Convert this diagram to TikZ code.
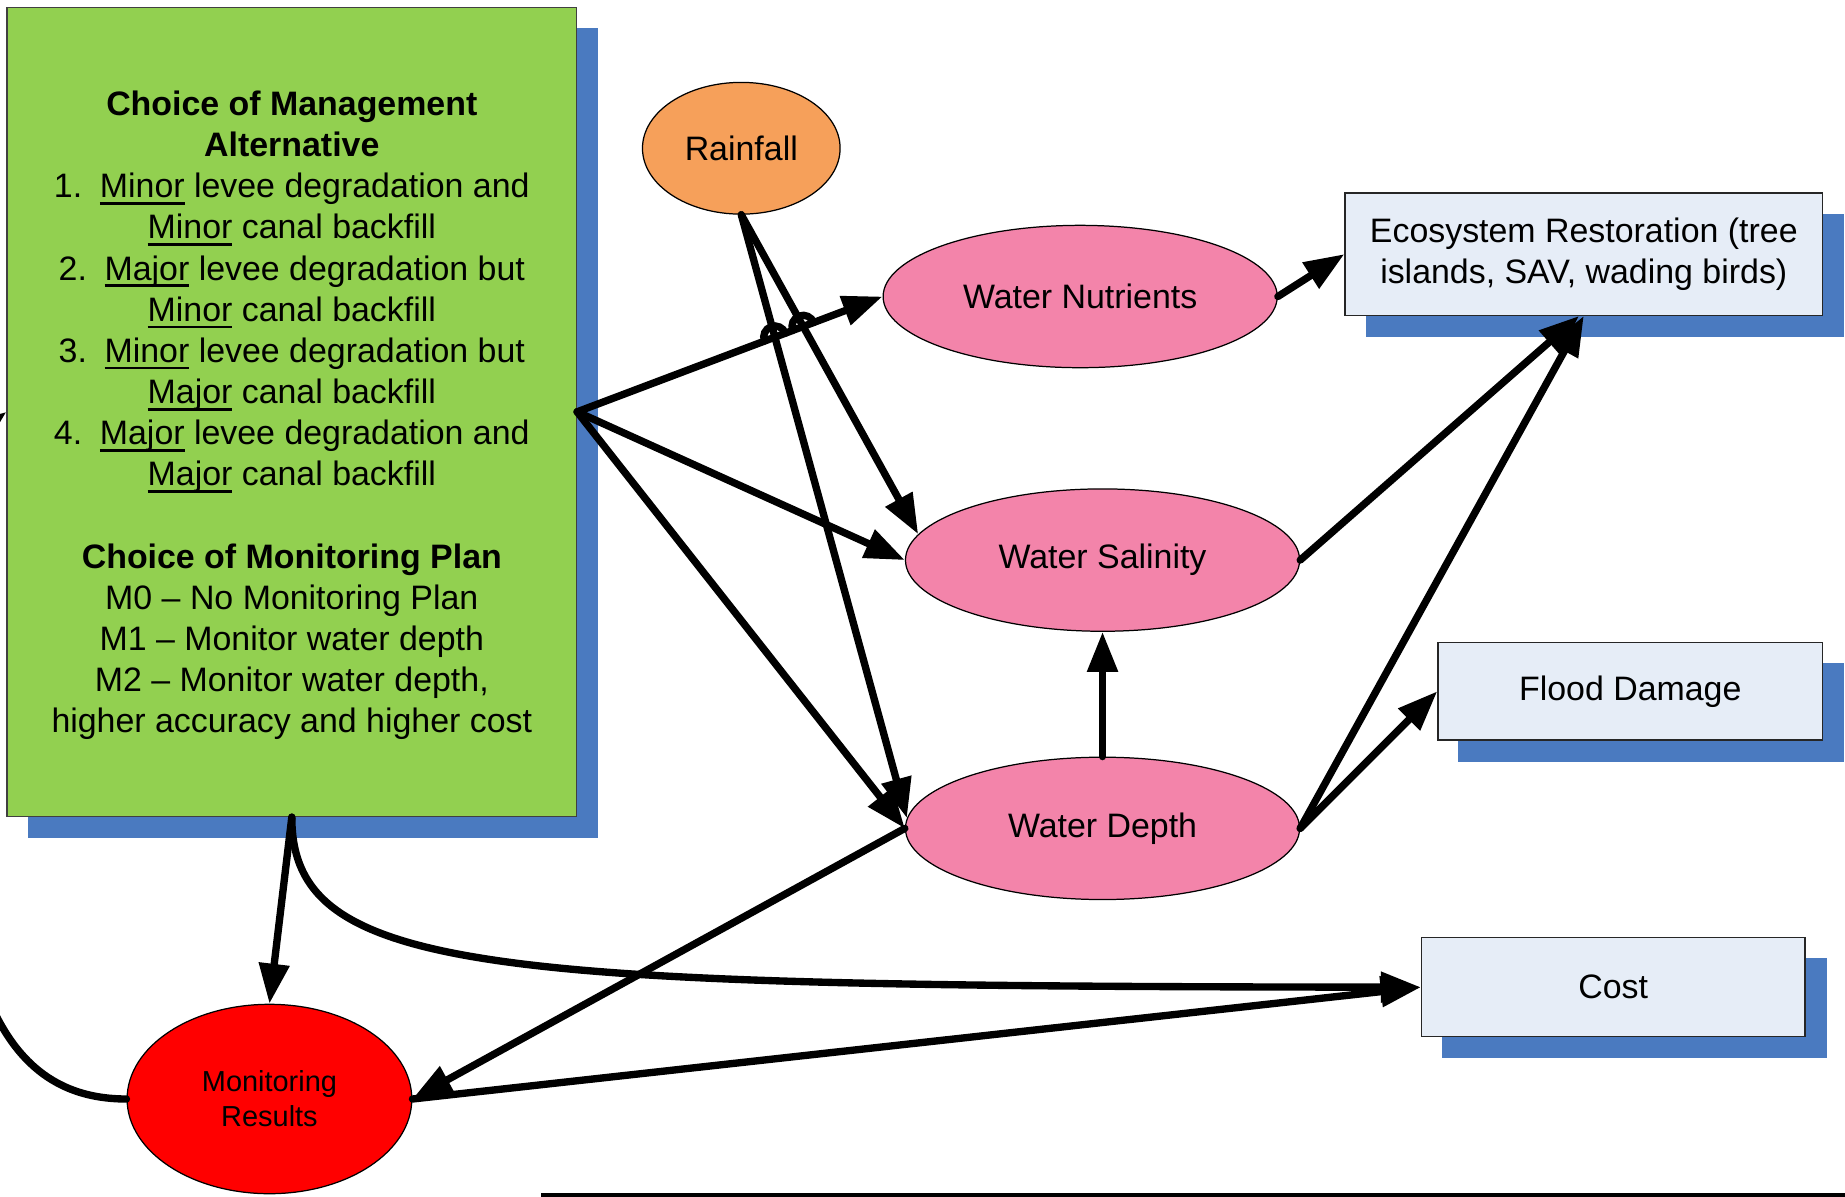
\documentclass[tikz,border=0pt]{standalone}
\usepackage{fontspec}
\setmainfont{Liberation Sans}
\usetikzlibrary{arrows.meta,shapes.geometric,calc,intersections,backgrounds}

\definecolor{leafgreen}{HTML}{92D050}
\definecolor{shadowblue}{HTML}{4A7AC0}
\definecolor{rosepink}{HTML}{F384AA}
\definecolor{rainorange}{HTML}{F6A05A}
\definecolor{palebox}{HTML}{E6EDF7}

% underline at a fixed depth, so descenders (j) cross it
\newcommand\uword[1]{\setbox0\hbox{#1}\rlap{\rule[-3.4pt]{\wd0}{1.3pt}}\box0\relax}

\begin{document}
\begin{tikzpicture}[x=0.02cm,y=0.02cm,
  every node/.style={font=\fontsize{16.4}{19.9}\selectfont, inner sep=0pt},
  var/.style={ellipse, draw=black, line width=0.6pt, fill=rosepink,
    minimum width=6.7cm, minimum height=2.42cm},
  outcome/.style={rectangle, draw=black!85, line width=0.6pt, fill=palebox, align=center},
  conn/.style={line width=0.125cm, line cap=round, -{Triangle[length=0.68cm,width=0.5cm]}},
  wire/.style={line width=0.125cm, line cap=round},
]

\useasboundingbox (0,0) rectangle (1568,-1017);
\clip (0,0) rectangle (1568,-1017);

% decision box
\node[draw=black!75, line width=0.6pt, fill=leafgreen, minimum width=9.68cm,
      minimum height=13.76cm, align=center, text depth=0pt] (G) at (248,-350)
  {\raisebox{0pt}{}\textbf{Choice of Management}\\
   \textbf{Alternative}\\
   1.\hspace{0.3cm}\uword{Minor} levee degradation and\\
   \uword{Minor} canal backfill\\
   2.\hspace{0.3cm}\uword{Major} levee degradation but\\
   \uword{Minor} canal backfill\\
   3.\hspace{0.3cm}\uword{Minor} levee degradation but\\
   \uword{Major} canal backfill\\
   4.\hspace{0.3cm}\uword{Major} levee degradation and\\
   \uword{Major} canal backfill\\
   \mbox{}\\
   \textbf{Choice of Monitoring Plan}\\
   M0 -- No Monitoring Plan\\
   M1 -- Monitor water depth\\
   M2 -- Monitor water depth,\\
   higher accuracy and higher cost};

% chance nodes
\node[ellipse, draw=black, line width=0.6pt, fill=rainorange,
      minimum width=3.36cm, minimum height=2.24cm] (R) at (630,-126) {Rainfall};
\node[var] (WN) at (918,-252) {Water Nutrients};
\node[var] (WS) at (937,-476) {Water Salinity};
\node[var] (WD) at (937,-704) {Water Depth};
\node[ellipse, draw=black, line width=0.6pt, fill=red, minimum width=4.84cm,
      minimum height=3.22cm, align=center, font=\fontsize{14}{17}\selectfont]
  (MR) at (229,-934) {Monitoring\\Results};

% value nodes
\node[outcome, minimum width=8.12cm, minimum height=2.08cm] (Eco) at (1346,-216)
  {Ecosystem Restoration (tree\\islands, SAV, wading birds)};
\node[outcome, minimum width=6.54cm, minimum height=1.66cm] (FD) at (1385.5,-587.5)
  {Flood Damage};
\node[outcome, minimum width=6.52cm, minimum height=1.68cm] (Cost) at (1371,-839)
  {Cost};

% drop shadows
\begin{scope}[on background layer]
  \foreach \n in {G,Eco,FD,Cost}
    \fill[shadowblue] ($(\n.south west)+(18,-18)$) rectangle ($(\n.north east)+(18,-18)$);
\end{scope}

% influences from the decision
\draw[conn, name path=gn] (G.east) -- (WN.west);
\draw[conn] (G.east) -- (WS.west);
\draw[conn] (G.east) -- (WD.west);

% influences from rainfall
\draw[conn, name path=rs] (R.south) -- (WS.172);
\draw[conn, name path=rd] (R.south) -- (WD.177);

% line hops where the decision arrow crosses the rainfall arrows
\path[name intersections={of=gn and rs, by=hopA}];
\path[name intersections={of=gn and rd, by=hopB}];
\foreach \h in {hopA,hopB}
  \draw[wire] ($(\h)+(200.6:0.19cm)$) arc[start angle=200.6, end angle=20.6, radius=0.19cm];

% links between state variables and values
\draw[conn] (WN.east) -- (Eco.west);
\draw[conn] (WS.east) -- ($(Eco.south)+(-4,0)$);
\draw[conn] (WD.east) -- (Eco.south);
\draw[conn] (WD.east) -- (FD.west);
\draw[conn] (WD.north) -- (WS.south);
\draw[conn] (WD.west) -- (MR.east);
\draw[conn] (MR.east) -- (Cost.west);
\draw[conn] (G.south) -- (MR.north);
\draw[conn] (G.south) .. controls (248,-830) and (420,-838) .. (Cost.west);

% feedback from monitoring results to the decision
\draw[conn] (MR.west) .. controls (30,-934) and (-10,-880) .. (-30,-780)
  .. controls (-60,-600) and (-60,-400) .. (G.west);

% rule along the bottom edge
\coordinate (ruleA) at (460,-1015.5);
\coordinate (ruleB) at (1568,-1015.5);
\draw[line width=0.06cm] (ruleA) -- (ruleB);

\end{tikzpicture}
\end{document}
